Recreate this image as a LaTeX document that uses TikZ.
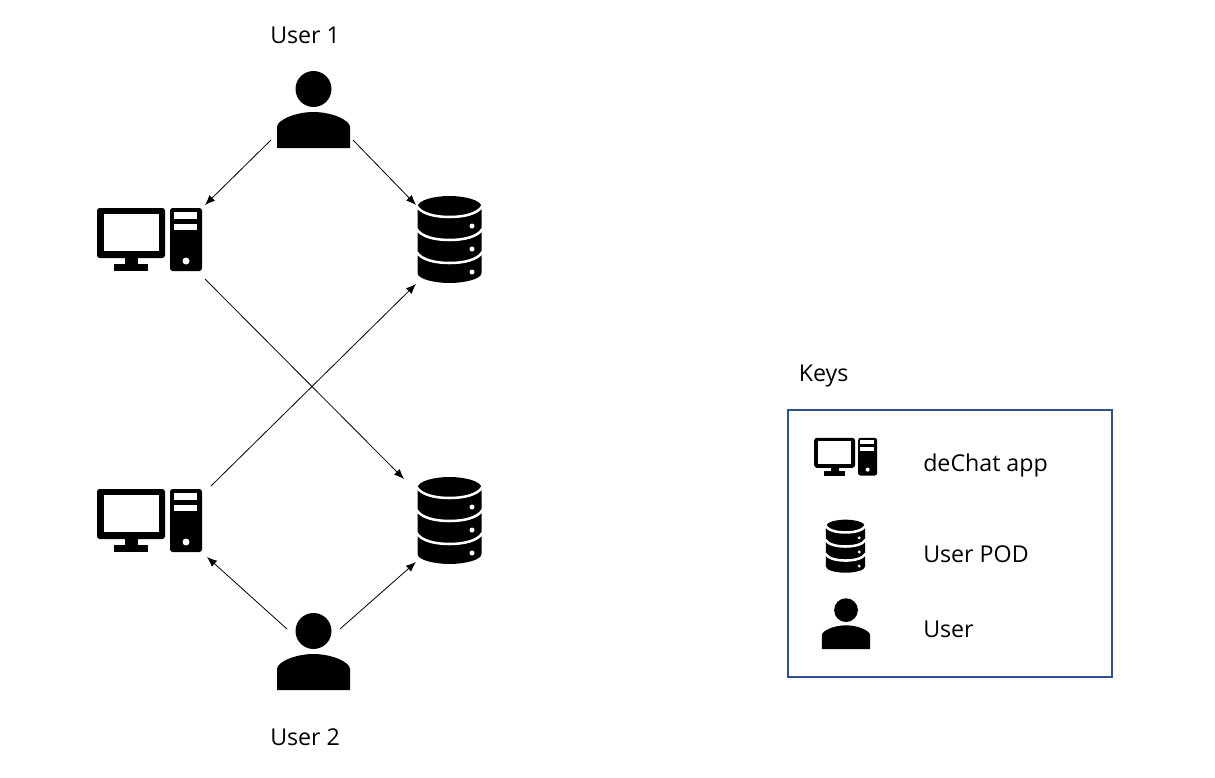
\documentclass[tikz,border=0pt]{standalone}
\usepackage{fontspec}
\setmainfont{Open Sans}
\usepackage{xcolor}
\definecolor{KeyCol}{RGB}{47,82,143}
\usetikzlibrary{arrows.meta}
\tikzstyle{Spot}=[inner sep=0pt,outer sep=0pt]
\tikzstyle{CompSpot}=[Spot,minimum width=82.5pt,minimum height=55.5pt]
\tikzstyle{PodSpot}=[Spot,minimum width=51pt,minimum height=59.25pt]
\tikzstyle{Label}=[inner sep=0pt,anchor=base west,font=\fontsize{17.4}{21}\selectfont]
\tikzstyle{KeyBox}=[Spot,draw=KeyCol,line width=1.5pt,minimum width=243pt,minimum height=200pt]
\tikzstyle{Edge}=[draw=black,line width=.6pt,-{Latex[length=7.5pt,width=6pt]}]
\tikzset{
    pics/Computer/.style={code={
        \fill[rounded corners=2pt](-53,-32)rectangle(15,18);
        \fill[white](-46,-26)rectangle(9,11);
        \fill(-25,18)rectangle(-12,24);
        \fill(-36,24)rectangle(-2,31);
        \fill[rounded corners=2pt](20,-32)rectangle(52,31);
        \fill[white](24,-28)rectangle(47,-21);
        \fill[white](24,-16)rectangle(47,-10);
        \fill[white](36,21)circle[radius=3.5];
    }},
    pics/Pod/.style={code={
        \fill(-32,-33)..controls(-32,-40)and(-15,-44)..(0,-44)
            ..controls(15,-44)and(32,-40)..(32,-33)--(32,33)
            ..controls(32,39)and(15,43)..(0,43)
            ..controls(-15,43)and(-32,39)..(-32,33)--cycle;
        \foreach \y in {0,23,46}{
            \draw[white,line width=1.9pt,yshift=\y*-.75pt]
                (-33,-34)..controls(-28,-26)and(-14,-23)..(0,-23)
                ..controls(14,-23)and(28,-26)..(33,-34);
            \fill[white](22.5,-14+\y)circle[radius=2.5];
        }
    }},
    pics/Person/.style={code={
        \fill(0,-21)circle[radius=18];
        \fill(-36.5,38)--(-36.5,17)..controls(-36.5,10)and(-18,2)..(0,2)
            ..controls(18,2)and(36.5,10)..(36.5,17)--(36.5,38)--cycle;
    }},
}
\begin{document}
\begin{tikzpicture}[x=.75pt,y=-.75pt]
        \useasboundingbox(0,0)rectangle(1215,778);
        % people and their machines
        \node[Spot,minimum width=61.5pt,minimum height=45pt](user1)at(312,110){};
        \node[Spot,minimum width=39.75pt,minimum height=45pt](user2)at(313.5,659){};
        \node[CompSpot](comp1)at(150,242){};
        \node[CompSpot](comp2)at(150,523){};
        \node[PodSpot](pod1)at(450,244.5){};
        \node[PodSpot](pod2)at(450,525.5){};
        \pic at(313.5,110){Person};
        \pic at(313.5,652){Person};
        \pic at(150,240){Computer};
        \pic at(150,521){Computer};
        \pic at(449.5,240){Pod};
        \pic at(449.5,521){Pod};
        \node[Label](user1txt)at(270,43){User 1};
        \node[Label](user2txt)at(270,745){User 2};
        \draw[Edge](user1.south west)--(comp1.north east);
        \draw[Edge](user1.south east)--(pod1.north west);
        \draw[Edge](comp1.south east)--([shift={(-12,-7)}]pod2.north west);
        \draw[Edge]([xshift=4.5pt]comp2.north east)--(pod1.south west);
        \draw[Edge](user2.north west)--([shift={(2,-3)}]comp2.south east);
        \draw[Edge](user2.north east)--([yshift=2.25pt]pod2.south west);
        % keys
        \node[Label](keystxt)at(798.5,381){Keys};
        \node[KeyBox](keys)at(950,543.5){};
        \node[Spot](keyapp)at(846,457){};
        \node[Spot](keypod)at(845.5,546.5){};
        \node[Spot](keyuser)at(846,624){};
        \pic[scale=.6]at(keyapp){Computer};
        \pic[scale=.61]at(keypod){Pod};
        \pic[scale=.66]at(keyuser){Person};
        \node[Label](apptxt)at(923,471.5){deChat app};
        \node[Label](podtxt)at(923,562){User POD};
        \node[Label](usertxt)at(923,637){User};
    \end{tikzpicture}
\end{document}
